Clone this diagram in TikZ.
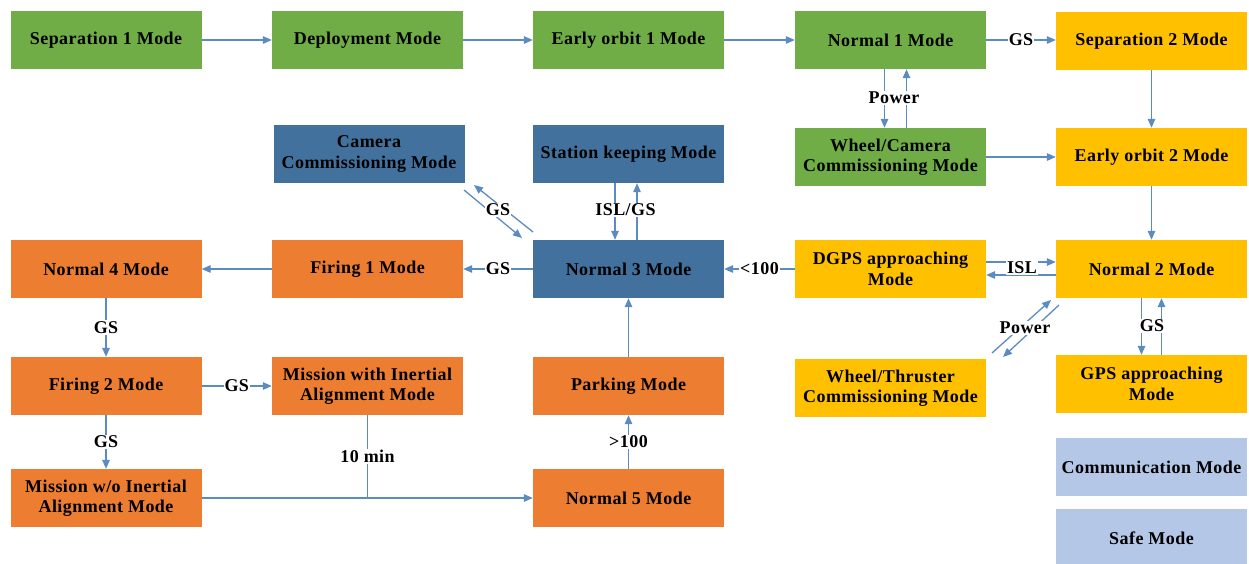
\documentclass[tikz,border=0pt]{standalone}
\usepackage{fontspec}
\setmainfont{Liberation Serif}[LetterSpace=2.5]
\usetikzlibrary{arrows.meta}

\definecolor{modegreen}{HTML}{70AD47}
\definecolor{modeorange}{HTML}{ED7D31}
\definecolor{modeblue}{HTML}{41719C}
\definecolor{modeyellow}{HTML}{FFC000}
\definecolor{modelight}{HTML}{B4C7E7}
\definecolor{linkblue}{HTML}{5B8BC0}

\begin{document}
\begin{tikzpicture}[x=1pt,y=-1pt,
    mode/.style={minimum width=191pt,minimum height=58pt,inner sep=2pt,
        align=center,font={\fontsize{18}{20.5}\selectfont\bfseries}},
    gmode/.style={mode,fill=modegreen},
    omode/.style={mode,fill=modeorange},
    bmode/.style={mode,fill=modeblue},
    ymode/.style={mode,fill=modeyellow},
    lmode/.style={mode,fill=modelight},
    link/.style={draw=linkblue,line width=1.3pt,
        -{Triangle[length=9pt,width=7.5pt]}},
    wire/.style={draw=linkblue,line width=1.3pt},
    lab/.style={fill=white,inner sep=1pt,
        font={\fontsize{18}{20}\selectfont\bfseries}}]
\useasboundingbox (0,0) rectangle (1249,563);
\clip (0,0) rectangle (1249,563);

% modes
\node[gmode] (sep1) at (106,40) {Separation 1 Mode};
\node[gmode] (deploy) at (367.5,40) {Deployment Mode};
\node[gmode] (early1) at (628.5,40) {Early orbit 1 Mode};
\node[gmode] (norm1) at (890.5,40) {Normal 1 Mode};
\node[ymode] (sep2) at (1151.5,41) {Separation 2 Mode};

\node[bmode] (camera) at (369,154) {Camera\\Commissioning Mode};
\node[bmode] (station) at (628.5,154) {Station keeping Mode};
\node[gmode] (wcam) at (890.5,157) {Wheel/Camera\\Commissioning Mode};
\node[ymode] (early2) at (1151.5,157) {Early orbit 2 Mode};

\node[omode] (norm4) at (106,269) {Normal 4 Mode};
\node[omode] (fire1) at (367.5,269) {Firing 1 Mode};
\node[bmode] (norm3) at (628.5,269) {Normal 3 Mode};
\node[ymode] (dgps) at (890.5,269) {DGPS approaching\\Mode};
\node[ymode] (norm2) at (1151.5,269) {Normal 2 Mode};

\node[omode] (fire2) at (106,386) {Firing 2 Mode};
\node[omode] (mwith) at (367.5,386) {Mission with Inertial\\Alignment Mode};
\node[omode] (park) at (628.5,386) {Parking Mode};
\node[ymode] (wthr) at (890.5,388) {Wheel/Thruster\\Commissioning Mode};
\node[ymode] (gps) at (1151.5,384) {GPS approaching\\Mode};

\node[omode] (mwo) at (106,498) {Mission w/o Inertial\\Alignment Mode};
\node[omode] (norm5) at (628.5,498) {Normal 5 Mode};
\node[lmode] (comm) at (1151.5,467) {Communication Mode};
\node[lmode] (safe) at (1151.5,538) {Safe Mode};

% top row
\draw[link] (sep1) -- (deploy);
\draw[link] (deploy) -- (early1);
\draw[link] (early1) -- (norm1);
\draw[link] (norm1.east) -- node[lab] (gsA) {GS} (norm1.east -| sep2.west);
\draw[link] (sep2) -- (early2);
\draw[link] (early2) -- (norm2);
\draw[link] ([xshift=-6pt]norm1.south) -- ([xshift=-6pt]norm1.south |- wcam.north);
\draw[link] ([xshift=16pt]wcam.north) -- ([xshift=16pt]wcam.north |- norm1.south);
\node[lab] (pwrA) at (894,98) {Power};
\draw[link] (wcam) -- (early2);

% right side
\draw[link] ([yshift=7pt]dgps.east) -- ([yshift=7pt]dgps.east -| norm2.west);
\draw[link] ([yshift=-6pt]norm2.west) -- ([yshift=-6pt]norm2.west -| dgps.east);
\node[lab] (isl) at (1022,268) {ISL};
\coordinate (wtA) at (992,353);
\coordinate (ntA) at (1051,300);
\coordinate (ntB) at (1059,305);
\coordinate (wtB) at (1003,357);
\draw[link] (wtA) -- (ntA);
\draw[link] (ntB) -- (wtB);
\node[lab] (pwrB) at (1025,328) {Power};
\draw[link] ([xshift=-10pt]norm2.south) -- ([xshift=-10pt]norm2.south |- gps.north);
\draw[link] ([xshift=10pt]gps.north) -- ([xshift=10pt]gps.north |- norm2.south);
\node[lab] (gsB) at (1152,326) {GS};

% middle
\draw[link] (dgps) -- node[lab] (lt) {<100} (norm3);
\draw[link] (norm3) -- node[lab] (gsC) {GS} (fire1);
\draw[link] (fire1) -- (norm4);
\draw[link] ([xshift=-13.5pt]station.south) -- ([xshift=-13.5pt]station.south |- norm3.north);
\draw[link] ([xshift=8.5pt]norm3.north) -- ([xshift=8.5pt]norm3.north |- station.south);
\node[lab] (islgs) at (625.5,210) {ISL/GS};
\coordinate (caA) at (464,190);
\coordinate (n3A) at (522,238);
\coordinate (n3B) at (533,232);
\coordinate (caB) at (474,185);
\draw[link] (caA) -- (n3A);
\draw[link] (n3B) -- (caB);
\node[lab] (gsD) at (498,210) {GS};

% left side
\draw[link] (norm4) -- node[lab] (gsE) {GS} (fire2);
\draw[link] (fire2) -- node[lab] (gsF) {GS} (mwith);
\draw[link] (fire2) -- node[lab] (gsG) {GS} (mwo);
\coordinate (join) at (mwith.south |- norm5.west);
\draw[wire] (mwith.south) -- node[lab] (tmin) {10 min} (join);
\draw[link] (mwo) -- (norm5);
\draw[link] (norm5) -- node[lab] (gt) {>100} (park);
\draw[link] (park) -- (norm3);
\end{tikzpicture}
\end{document}
